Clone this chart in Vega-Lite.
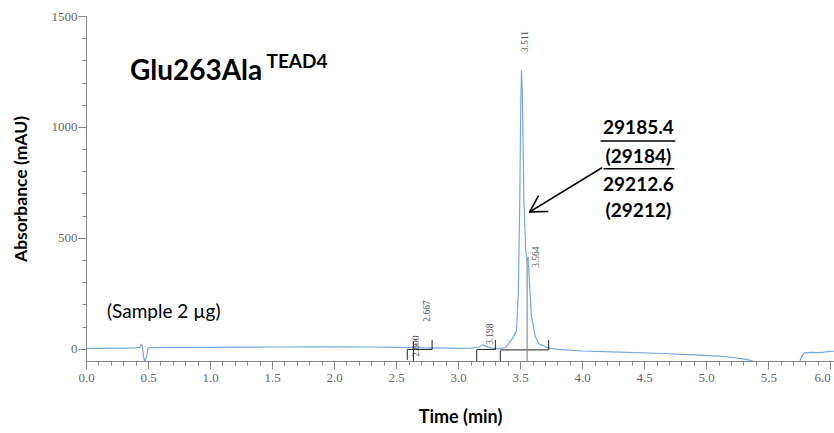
{
  "$schema": "https://vega.github.io/schema/vega-lite/v6.json",
  "width": 748,
  "height": 345,
  "autosize": {"type": "none"},
  "padding": {"left": 86, "top": 16, "right": 0, "bottom": 72},
  "background": "white",
  "config": {"view": {"stroke": null}},
  "resolve": {"axis": {"x": "independent", "y": "independent"}},
  "datasets": {
    "chrom": [
      {"t": 0.0, "v": 2}, {"t": 0.1, "v": 2}, {"t": 0.3, "v": 3}, {"t": 0.4, "v": 4},
      {"t": 0.43, "v": 6}, {"t": 0.445, "v": 20}, {"t": 0.455, "v": 10}, {"t": 0.465, "v": -40},
      {"t": 0.475, "v": -60}, {"t": 0.49, "v": -30}, {"t": 0.5, "v": 3}, {"t": 0.52, "v": 5},
      {"t": 1.0, "v": 6}, {"t": 1.5, "v": 8}, {"t": 2.0, "v": 9}, {"t": 2.3, "v": 8},
      {"t": 2.5, "v": 6}, {"t": 2.6, "v": 5}, {"t": 2.65, "v": 7}, {"t": 2.7, "v": 5},
      {"t": 3.0, "v": 2}, {"t": 3.1, "v": 3}, {"t": 3.17, "v": 8}, {"t": 3.2, "v": 18},
      {"t": 3.23, "v": 10}, {"t": 3.27, "v": 3}, {"t": 3.33, "v": 0}, {"t": 3.38, "v": 6},
      {"t": 3.43, "v": 40}, {"t": 3.47, "v": 80}, {"t": 3.485, "v": 250}, {"t": 3.497, "v": 670},
      {"t": 3.505, "v": 1100}, {"t": 3.511, "v": 1257}, {"t": 3.518, "v": 1150}, {"t": 3.53, "v": 670},
      {"t": 3.545, "v": 440}, {"t": 3.556, "v": 405}, {"t": 3.564, "v": 410}, {"t": 3.575, "v": 300},
      {"t": 3.59, "v": 150}, {"t": 3.62, "v": 60}, {"t": 3.65, "v": 22}, {"t": 3.72, "v": 5},
      {"t": 3.8, "v": -3}, {"t": 4.0, "v": -10}, {"t": 4.3, "v": -15}, {"t": 4.6, "v": -20},
      {"t": 4.9, "v": -27}, {"t": 5.1, "v": -33}, {"t": 5.2, "v": -38}, {"t": 5.28, "v": -44},
      {"t": 5.34, "v": -50}, {"t": 5.39, "v": -58}, {"t": 5.42, "v": -150}, {"t": 5.72, "v": -150},
      {"t": 5.76, "v": -45}, {"t": 5.79, "v": -18}, {"t": 5.85, "v": -16}, {"t": 5.9, "v": -17},
      {"t": 5.95, "v": -15}, {"t": 6.0, "v": -12}, {"t": 6.03, "v": -11}
    ],
    "marks": [
      {"t": 2.59, "v": -5, "t2": 2.59, "v2": -50, "kind": "tick"},
      {"t": 2.64, "v": 32, "t2": 2.64, "v2": -54, "kind": "tick"},
      {"t": 2.79, "v": 40, "t2": 2.79, "v2": -5, "kind": "tick"},
      {"t": 3.15, "v": -5, "t2": 3.15, "v2": -55, "kind": "tick"},
      {"t": 3.30, "v": 40, "t2": 3.30, "v2": -5, "kind": "tick"},
      {"t": 3.34, "v": -9, "t2": 3.34, "v2": -55, "kind": "tick"},
      {"t": 3.73, "v": 40, "t2": 3.73, "v2": -5, "kind": "tick"},
      {"t": 2.59, "v": -3, "t2": 2.79, "v2": -3, "kind": "tick"},
      {"t": 3.15, "v": -3, "t2": 3.30, "v2": -3, "kind": "tick"},
      {"t": 3.34, "v": -5, "t2": 3.73, "v2": -5, "kind": "tick"},
      {"t": 3.556, "v": 405, "t2": 3.556, "v2": -55, "kind": "drop"}
    ],
    "peaks": [
      {"t": 2.66, "v": -36, "label": "2.600"},
      {"t": 2.75, "v": 122, "label": "2.667"},
      {"t": 3.256, "v": 18, "label": "3.198"},
      {"t": 3.537, "v": 1338, "label": "3.511"},
      {"t": 3.625, "v": 365, "label": "3.564"}
    ],
    "arrow": [
      {"t": 4.156, "v": 815, "t2": 3.577, "v2": 617},
      {"t": 3.722, "v": 619, "t2": 3.577, "v2": 617},
      {"t": 3.646, "v": 688, "t2": 3.577, "v2": 617}
    ],
    "masses": [
      {"t": 4.453, "v": 995, "text": "29185.4"},
      {"t": 4.453, "v": 865, "text": "(29184)"},
      {"t": 4.453, "v": 739, "text": "29212.6"},
      {"t": 4.453, "v": 622, "text": "(29212)"}
    ],
    "underlines": [
      {"t": 4.148, "v": 937, "t2": 4.751},
      {"t": 4.172, "v": 811, "t2": 4.743}
    ],
    "title": [{"t": 0.354, "v": 1248, "text": "Glu263Ala"}],
    "sup": [{"t": 1.455, "v": 1293, "text": "TEAD4"}],
    "sample": [{"t": 0.169, "v": 167, "text": "(Sample 2 µg)"}]
  },
  "layer": [
    {
      "data": {"name": "chrom"},
      "mark": {"type": "line", "color": "#74a8e2", "strokeWidth": 1.2, "clip": true, "interpolate": "linear"},
      "encoding": {
        "x": {
          "field": "t", "type": "quantitative",
          "scale": {"domain": [0, 6.03], "nice": false, "zero": false},
          "axis": {
            "orient": "bottom",
            "title": "Time (min)",
            "values": [0,0.5,1,1.5,2,2.5,3,3.5,4,4.5,5,5.5,6],
            "format": ".1f",
            "labelFlush": false,
            "labelBound": false,
            "labelAlign": {"condition": {"test": "datum.value > 5.95", "value": "right"}, "value": "center"},
            "tickSize": 8,
            "grid": false,
            "domainColor": "#888", "tickColor": "#888",
            "labelColor": "#666", "labelFont": "Liberation Serif", "labelFontSize": 13,
            "labelPadding": 2,
            "titleFont": "Lato", "titleFontWeight": "bold", "titleFontSize": 18, "titleColor": "#000",
            "titlePadding": 24
          }
        },
        "y": {
          "field": "v", "type": "quantitative",
          "scale": {"domain": [-55, 1500], "nice": false, "zero": false},
          "axis": {
            "orient": "left",
            "title": "Absorbance (mAU)",
            "values": [0,500,1000,1500],
            "format": "d",
            "labelFlush": false,
            "labelBound": false,
            "tickSize": 8,
            "grid": false,
            "domainColor": "#888", "tickColor": "#888",
            "labelColor": "#666", "labelFont": "Liberation Serif", "labelFontSize": 13,
            "labelPadding": 1,
            "titleFont": "Lato", "titleFontWeight": "bold", "titleFontSize": 17.5, "titleColor": "#000",
            "titlePadding": 21
          }
        },
        "order": {"field": "t", "type": "quantitative"}
      }
    },
    {
      "data": {"name": "marks"},
      "mark": {"type": "rule", "color": "#222", "strokeWidth": 1},
      "encoding": {
        "x": {"field": "t", "type": "quantitative",
          "axis": {
            "orient": "bottom", "title": null, "labels": false, "domain": false, "grid": false,
            "values": [0.1,0.2,0.3,0.4,0.6,0.7,0.8,0.9,1.1,1.2,1.3,1.4,1.6,1.7,1.8,1.9,2.1,2.2,2.3,2.4,2.6,2.7,2.8,2.9,3.1,3.2,3.3,3.4,3.6,3.7,3.8,3.9,4.1,4.2,4.3,4.4,4.6,4.7,4.8,4.9,5.1,5.2,5.3,5.4,5.6,5.7,5.8,5.9],
            "tickSize": 4, "tickColor": "#888"
          }},
        "y": {"field": "v", "type": "quantitative",
          "axis": {
            "orient": "left", "title": null, "labels": false, "domain": false, "grid": false,
            "values": [100,200,300,400,600,700,800,900,1100,1200,1300,1400],
            "tickSize": 4, "tickColor": "#888"
          }},
        "x2": {"field": "t2"},
        "y2": {"field": "v2"},
        "color": {"field": "kind", "type": "nominal", "scale": {"domain": ["tick", "drop"], "range": ["#222", "#777"]}, "legend": null},
        "strokeWidth": {"field": "kind", "type": "nominal", "scale": {"domain": ["tick", "drop"], "range": [1, 2.2]}, "legend": null}
      }
    },
    {
      "data": {"name": "peaks"},
      "mark": {"type": "text", "angle": 270, "align": "left", "baseline": "middle", "font": "Liberation Serif", "fontSize": 9.5, "color": "#555"},
      "encoding": {
        "x": {"field": "t", "type": "quantitative", "axis": null},
        "y": {"field": "v", "type": "quantitative", "axis": null},
        "text": {"field": "label"}
      }
    },
    {
      "data": {"name": "arrow"},
      "mark": {"type": "rule", "color": "#000", "strokeWidth": 1.6, "strokeCap": "round"},
      "encoding": {
        "x": {"field": "t", "type": "quantitative", "axis": null},
        "y": {"field": "v", "type": "quantitative", "axis": null},
        "x2": {"field": "t2"},
        "y2": {"field": "v2"}
      }
    },
    {
      "data": {"name": "masses"},
      "mark": {"type": "text", "align": "center", "baseline": "middle", "font": "Lato", "fontWeight": "bold", "fontSize": 19, "color": "#000"},
      "encoding": {
        "x": {"field": "t", "type": "quantitative", "axis": null},
        "y": {"field": "v", "type": "quantitative", "axis": null},
        "text": {"field": "text"}
      }
    },
    {
      "data": {"name": "underlines"},
      "mark": {"type": "rule", "color": "#000", "strokeWidth": 1.5},
      "encoding": {
        "x": {"field": "t", "type": "quantitative", "axis": null},
        "y": {"field": "v", "type": "quantitative", "axis": null},
        "x2": {"field": "t2"}
      }
    },
    {
      "data": {"name": "title"},
      "mark": {"type": "text", "align": "left", "baseline": "middle", "font": "Lato", "fontWeight": "bold", "fontSize": 28, "color": "#000"},
      "encoding": {
        "x": {"field": "t", "type": "quantitative", "axis": null},
        "y": {"field": "v", "type": "quantitative", "axis": null},
        "text": {"field": "text"}
      }
    },
    {
      "data": {"name": "sup"},
      "mark": {"type": "text", "align": "left", "baseline": "middle", "font": "Lato", "fontWeight": "bold", "fontSize": 19, "color": "#000"},
      "encoding": {
        "x": {"field": "t", "type": "quantitative", "axis": null},
        "y": {"field": "v", "type": "quantitative", "axis": null},
        "text": {"field": "text"}
      }
    },
    {
      "data": {"name": "sample"},
      "mark": {"type": "text", "align": "left", "baseline": "middle", "font": "Lato", "fontSize": 19, "color": "#000"},
      "encoding": {
        "x": {"field": "t", "type": "quantitative", "axis": null},
        "y": {"field": "v", "type": "quantitative", "axis": null},
        "text": {"field": "text"}
      }
    }
  ]
}
